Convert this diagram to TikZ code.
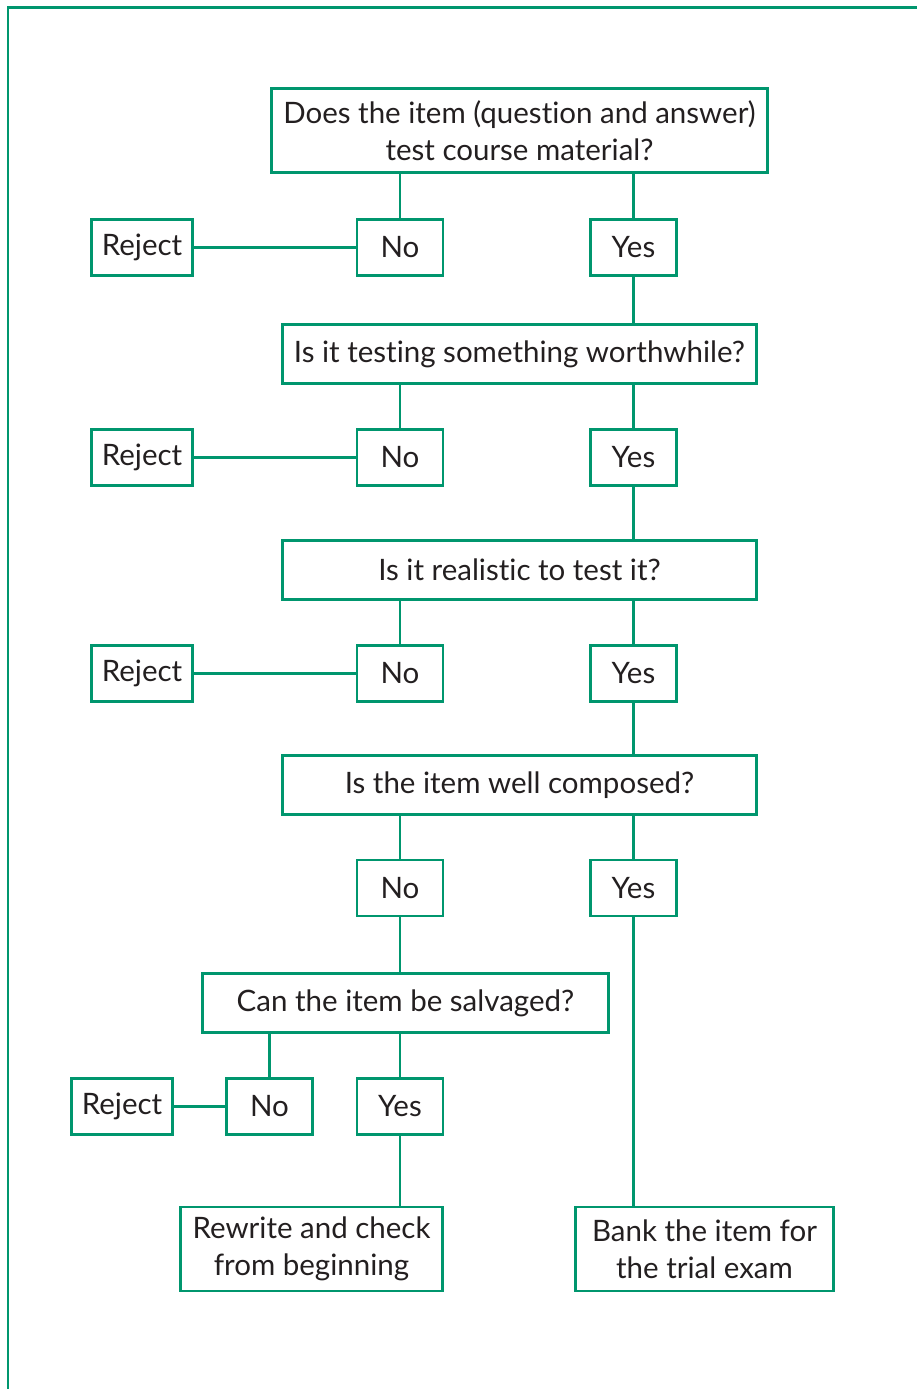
\documentclass[tikz,border=0pt]{standalone}
\usepackage{fontspec}
\setmainfont[Ligatures={NoCommon,NoDiscretionary}]{Lato}
\definecolor{framegreen}{RGB}{0,150,110}
\definecolor{inkgray}{RGB}{35,31,32}
\tikzset{
  box/.style={draw=framegreen, line width=2.6pt, inner sep=0pt, align=center,
    text=inkgray, font=\fontsize{29.5}{37}\selectfont},
  small/.style={box, minimum width=86pt, minimum height=56pt},
  wide/.style={box, minimum width=474pt, minimum height=59pt},
  link/.style={draw=framegreen, line width=2.4pt}
}
\begin{document}
\begin{tikzpicture}[x=1pt,y=-1pt]
  \useasboundingbox (0,0) rectangle (917,1389);
  % outer frame
  \draw[link] (917,7.5) -- (8,7.5) -- (8,1389);

  \node[box, minimum width=496pt, minimum height=84pt] (q1) at (519.5,130.5)
    {Does the item (question and answer)\\test course material?};
  \node[small, minimum width=101pt] (rej1) at (142,247.5) {Reject};
  \node[small] (no1) at (400,247.5) {No};
  \node[small] (yes1) at (633.5,247.5) {Yes};

  \node[wide] (q2) at (519.5,354) {Is it testing something worthwhile?};
  \node[small, minimum width=101pt] (rej2) at (142,457.5) {Reject};
  \node[small] (no2) at (400,457.5) {No};
  \node[small] (yes2) at (633.5,457.5) {Yes};

  \node[wide] (q3) at (519.5,570) {Is it realistic to test it?};
  \node[small, minimum width=101pt] (rej3) at (142,673.5) {Reject};
  \node[small] (no3) at (400,673.5) {No};
  \node[small] (yes3) at (633.5,673.5) {Yes};

  \node[wide] (q4) at (519.5,785) {Is the item well composed?};
  \node[small] (no4) at (400,888) {No};
  \node[small] (yes4) at (633.5,888) {Yes};

  \node[box, minimum width=406pt, minimum height=59pt] (q5) at (405.5,1003)
    {Can the item be salvaged?};
  \node[small, minimum width=101pt] (rej5) at (122,1106.5) {Reject};
  \node[small] (no5) at (269.5,1106.5) {No};
  \node[small] (yes5) at (400,1106.5) {Yes};

  \node[box, minimum width=262pt, minimum height=84pt] (rewrite) at (311.5,1249)
    {Rewrite and check\\from beginning};
  \node[box, minimum width=258pt, minimum height=84pt] (bank) at (704.5,1249)
    {Bank the item for\\the trial exam};

  % connectors
  \draw[link] (no1.north) -- (no1.north |- q1.south);
  \draw[link] (yes1.north) -- (yes1.north |- q1.south);
  \draw[link] (yes1.south) -- (yes1.south |- q2.north);
  \draw[link] (no2.north) -- (no2.north |- q2.south);
  \draw[link] (yes2.north) -- (yes2.north |- q2.south);
  \draw[link] (yes2.south) -- (yes2.south |- q3.north);
  \draw[link] (no3.north) -- (no3.north |- q3.south);
  \draw[link] (yes3.north) -- (yes3.north |- q3.south);
  \draw[link] (yes3.south) -- (yes3.south |- q4.north);
  \draw[link] (no4.north) -- (no4.north |- q4.south);
  \draw[link] (yes4.north) -- (yes4.north |- q4.south);
  \draw[link] (no4.south) -- (no4.south |- q5.north);
  \draw[link] (no5.north) -- (no5.north |- q5.south);
  \draw[link] (yes5.north) -- (yes5.north |- q5.south);
  \draw[link] (yes5.south) -- (yes5.south |- rewrite.north);
  \draw[link] (yes4.south) -- (yes4.south |- bank.north);
  \draw[link] (rej1) -- (no1);
  \draw[link] (rej2) -- (no2);
  \draw[link] (rej3) -- (no3);
  \draw[link] (rej5) -- (no5);
\end{tikzpicture}
\end{document}
